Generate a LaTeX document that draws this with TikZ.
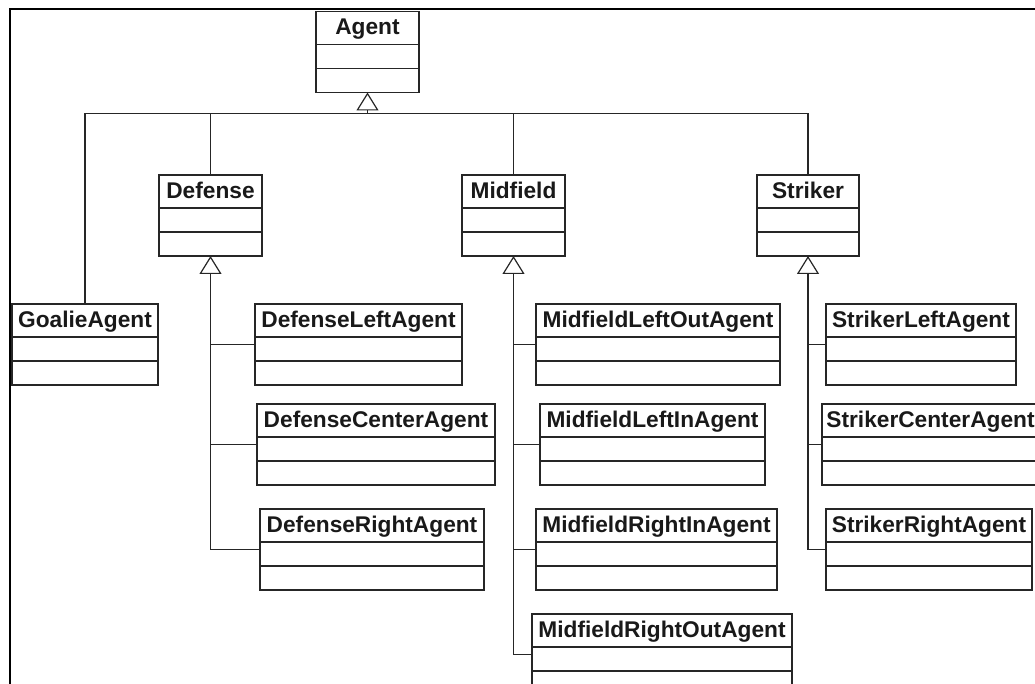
\documentclass[tikz,border=0pt]{standalone}
\usepackage{fontspec}
\newfontfamily\classfont{Liberation Sans}
\usetikzlibrary{arrows.meta}

% one UML class: name, left x, top y, width, title
\newcommand{\umlclass}[5]{%
  \node[classbox, minimum width=#4pt, anchor=north west] (#1) at (#2,#3) {};
  \node[classtitle] (#1-title) at ([yshift=-23.5pt]#1.north) {#5};
  \draw[divider] ([yshift=-33pt]#1.north west) -- ([yshift=-33pt]#1.north east);
  \draw[divider] ([yshift=-57pt]#1.north west) -- ([yshift=-57pt]#1.north east);
}

\tikzset{
  classbox/.style={draw=black!85, line width=1.2pt, fill=white,
    minimum height=81pt, inner sep=0pt, outer sep=0pt},
  classtitle/.style={anchor=base, inner sep=0pt,
    font=\classfont\bfseries\fontsize{22.7}{26}\selectfont, text=black!90},
  divider/.style={draw=black!85, line width=1.2pt},
  link/.style={draw=black!85, line width=1.2pt},
  inherit/.style={link, -{Triangle[open, length=18pt, width=22pt, line width=1.2pt]}},
  frameline/.style={draw=black, line width=2pt},
}

\begin{document}
\begin{tikzpicture}[x=1pt, y=-1pt]
  \useasboundingbox (0,0) rectangle (1035,684);
  \clip (0,0) rectangle (1035,684);

  % outer frame
  \draw[frameline] (10,690) -- (10,9) -- (1040,9);

  % classes
  \umlclass{agent}{316}{11.5}{103}{Agent}
  \umlclass{defense}{159}{175}{103}{Defense}
  \umlclass{midfield}{462}{175}{103}{Midfield}
  \umlclass{striker}{757}{175}{102}{Striker}
  \umlclass{goalie}{12}{304}{146}{GoalieAgent}

  \umlclass{dla}{255}{304}{207}{DefenseLeftAgent}
  \umlclass{dca}{257}{404}{238}{DefenseCenterAgent}
  \umlclass{dra}{260}{509}{224}{DefenseRightAgent}

  \umlclass{mloa}{536}{304}{244}{MidfieldLeftOutAgent}
  \umlclass{mlia}{540}{404}{225}{MidfieldLeftInAgent}
  \umlclass{mria}{536}{509}{241}{MidfieldRightInAgent}
  \umlclass{mroa}{532}{614}{260}{MidfieldRightOutAgent}

  \umlclass{sla}{826}{304}{190}{StrikerLeftAgent}
  \umlclass{sca}{822}{404}{217}{StrikerCenterAgent}
  \umlclass{sra}{826}{509}{206}{StrikerRightAgent}

  % generalisation to Agent
  \coordinate (bus) at ([yshift=-21pt]agent.south);
  \draw[link] (goalie.north) |- (bus) -| (striker.north);
  \draw[link] (defense.north) -- (defense.north |- bus);
  \draw[link] (midfield.north) -- (midfield.north |- bus);
  \draw[inherit] (bus) -- (agent.south);

  % generalisation to Defense
  \draw[inherit] (dra.west) -| (defense.south);
  \draw[link] (dla.west) -- (dla.west -| defense.south);
  \draw[link] (dca.west) -- (dca.west -| defense.south);

  % generalisation to Midfield
  \draw[inherit] (mroa.west) -| (midfield.south);
  \draw[link] (mloa.west) -- (mloa.west -| midfield.south);
  \draw[link] (mlia.west) -- (mlia.west -| midfield.south);
  \draw[link] (mria.west) -- (mria.west -| midfield.south);

  % generalisation to Striker
  \draw[inherit] (sra.west) -| (striker.south);
  \draw[link] (sla.west) -- (sla.west -| striker.south);
  \draw[link] (sca.west) -- (sca.west -| striker.south);
\end{tikzpicture}
\end{document}
